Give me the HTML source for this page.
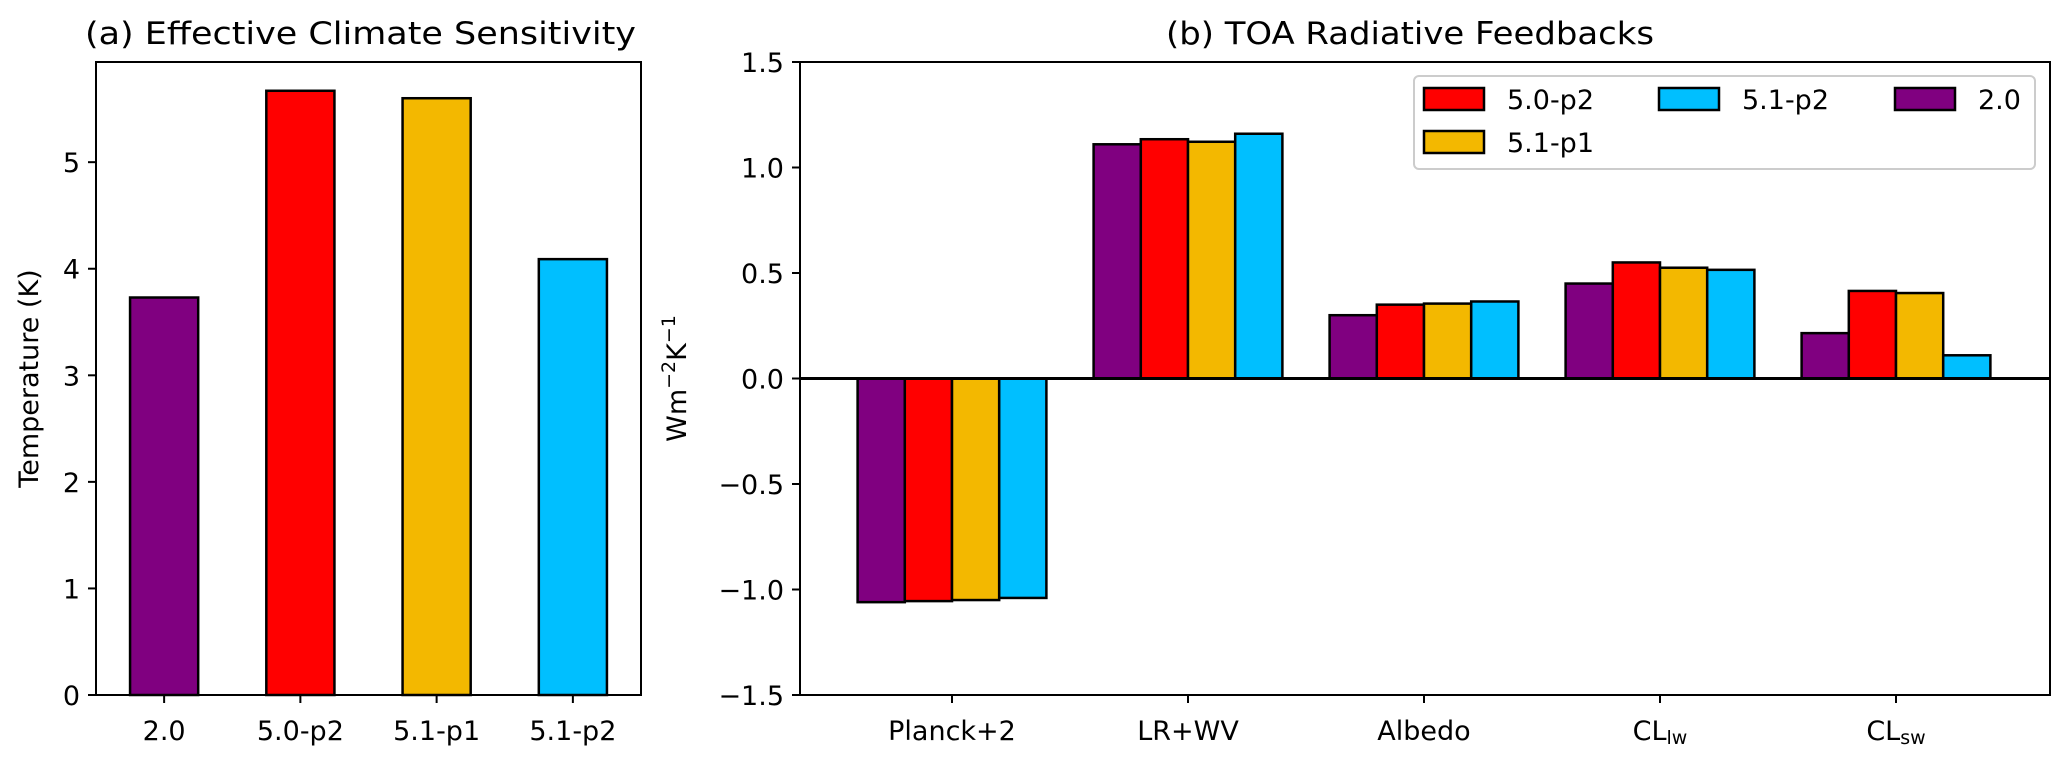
<!DOCTYPE html>
<html><head><meta charset="utf-8"><style>
html,body{margin:0;padding:0;background:#fff;}
svg{display:block;font-family:"DejaVu Sans","Liberation Sans",sans-serif;}
</style></head><body>
<svg id="fig" width="2067" height="761" viewBox="0 0 2067 761" xmlns="http://www.w3.org/2000/svg">
<rect x="0" y="0" width="2067" height="761" fill="#fff"/>
<g id="pa"></g>
<g id="pb"></g>
</svg>
<script>
// Panel (a) data
const catsA = ["2.0","5.0-p2","5.1-p1","5.1-p2"];
const valsA = [3.73, 5.67, 5.60, 4.09];
const colorsA = ["#800080","#ff0000","#f3b800","#00bfff"];
const ticksA = [0,1,2,3,4,5];
// Panel (b) data
const catsB = ["Planck+2","LR+WV","Albedo","CL|lw","CL|sw"];
const seriesNames = ["2.0","5.0-p2","5.1-p1","5.1-p2"];
const s20 = [-1.06, 1.11, 0.30, 0.45, 0.215];
const s50p2 = [-1.055, 1.134, 0.35, 0.55, 0.415];
const s51p1 = [-1.05, 1.122, 0.355, 0.525, 0.405];
const s51p2 = [-1.04, 1.16, 0.365, 0.515, 0.11];
const ticksB = [-1.5,-1.0,-0.5,0.0,0.5,1.0,1.5];
const tickLabelsB = ["\u22121.5","\u22121.0","\u22120.5","0.0","0.5","1.0","1.5"];

const NS="http://www.w3.org/2000/svg";
function mk(parent, tag, attrs, text){
  const e=document.createElementNS(NS,tag);
  for(const k in attrs) e.setAttribute(k, attrs[k]);
  if(text!==undefined) e.textContent=text;
  parent.appendChild(e); return e;
}
const FS=27;

// ---------- Panel A ----------
(function(){
  const g=document.getElementById('pa');
  const L=96,R=641,T=62,B=695;
  const yMin=0,yMax=5.94;
  const xMin=-0.5,xMax=3.5;
  const X=v=>L+(v-xMin)/(xMax-xMin)*(R-L);
  const Y=v=>B-(v-yMin)/(yMax-yMin)*(B-T);
  const w=0.5;
  valsA.forEach((v,i)=>{
    const r=mk(g,'rect',{x:X(i-w/2),y:Y(v),width:X(i+w/2)-X(i-w/2),height:Y(0)-Y(v),fill:colorsA[i],stroke:'#000','stroke-width':2.5});
    
    
  });
  mk(g,'rect',{x:L,y:T,width:R-L,height:B-T,fill:'none',stroke:'#000','stroke-width':2});
  ticksA.forEach(t=>{
    mk(g,'line',{x1:L-8,x2:L,y1:Y(t),y2:Y(t),stroke:'#000','stroke-width':2});
    const tx=mk(g,'text',{x:L-16,y:Y(t)+10,'text-anchor':'end','font-size':FS},String(t));
    
    
  });
  catsA.forEach((c,i)=>{
    mk(g,'line',{x1:X(i),x2:X(i),y1:B,y2:B+8,stroke:'#000','stroke-width':2});
    const tx=mk(g,'text',{x:X(i),y:B+45,'text-anchor':'middle','font-size':FS},c);
    
    
  });
  const yl=mk(g,'text',{x:0,y:0,'text-anchor':'middle','font-size':FS,transform:'translate(38,'+((T+B)/2)+') rotate(-90)'},'Temperature (K)');
  
  
  const tt=mk(g,'text',{x:(L+R)/2-8,y:44,'text-anchor':'middle','font-size':31,textLength:551,lengthAdjust:'spacingAndGlyphs'},'(a) Effective Climate Sensitivity');
  
  
})();

// ---------- Panel B ----------
(function(){
  const g=document.getElementById('pb');
  const L=800,R=2050,T=62,B=695;
  const yMin=-1.5,yMax=1.5;
  const step=236;
  const x0=952;
  const X=v=>x0+v*step;
  const Y=v=>B-(v-yMin)/(yMax-yMin)*(B-T);
  const series=[s20,s50p2,s51p1,s51p2];
  const cols=["#800080","#ff0000","#f3b800","#00bfff"];
  const w=0.2;
  series.forEach((s,si)=>{
    s.forEach((v,ci)=>{
      const c=ci+(si-1.5)*w;
      const y1=Math.min(Y(v),Y(0)), y2=Math.max(Y(v),Y(0));
      const r=mk(g,'rect',{x:X(c-w/2),y:y1,width:X(c+w/2)-X(c-w/2),height:y2-y1,fill:cols[si],stroke:'#000','stroke-width':2.5});
      
      
    });
  });
  const zl=mk(g,'line',{x1:L,x2:R,y1:Y(0),y2:Y(0),stroke:'#000','stroke-width':3});
  
  mk(g,'rect',{x:L,y:T,width:R-L,height:B-T,fill:'none',stroke:'#000','stroke-width':2});
  ticksB.forEach((t,i)=>{
    mk(g,'line',{x1:L-8,x2:L,y1:Y(t),y2:Y(t),stroke:'#000','stroke-width':2});
    const tx=mk(g,'text',{x:L-16,y:Y(t)+10,'text-anchor':'end','font-size':FS},tickLabelsB[i]);
    
    
  });
  catsB.forEach((c,i)=>{
    mk(g,'line',{x1:X(i),x2:X(i),y1:B,y2:B+8,stroke:'#000','stroke-width':2});
    const parts=c.split('|');
    const tx=mk(g,'text',{x:X(i),y:B+45,'text-anchor':'middle','font-size':FS},parts[0]);
    if(parts[1]){
      mk(tx,'tspan',{'font-size':19,dy:4},parts[1]);
    }
    
    
  });
  const yl=mk(g,'text',{x:0,y:0,'text-anchor':'middle','font-size':FS,transform:'translate(686,'+((T+B)/2)+') rotate(-90)'});
  mk(yl,'tspan',{},'Wm');
  mk(yl,'tspan',{dy:-11,'font-size':19},'\u22122');
  mk(yl,'tspan',{dy:11},'K');
  mk(yl,'tspan',{dy:-11,'font-size':19},'\u22121');
  
  
  const tt=mk(g,'text',{x:1410,y:44,'text-anchor':'middle','font-size':31,textLength:488,lengthAdjust:'spacingAndGlyphs'},'(b) TOA Radiative Feedbacks');
  
  
  // legend
  const lg=mk(g,'g',{});
  
  
  mk(lg,'rect',{x:1414,y:76,width:621,height:93,rx:5,fill:'#fff',stroke:'#cccccc','stroke-width':2});
  const order=[1,3,0,2];
  const pos=[[1424,99],[1659,99],[1895,99],[1424,142]];
  order.forEach((si,k)=>{
    const [px,py]=pos[k];
    const it=mk(lg,'g',{});
    
    
    mk(it,'rect',{x:px,y:py-11,width:60,height:22,fill:cols[si],stroke:'#000','stroke-width':2.5});
    mk(it,'text',{x:px+83,y:py+10,'font-size':FS},seriesNames[si]);
  });
})();
</script>
</body></html>
